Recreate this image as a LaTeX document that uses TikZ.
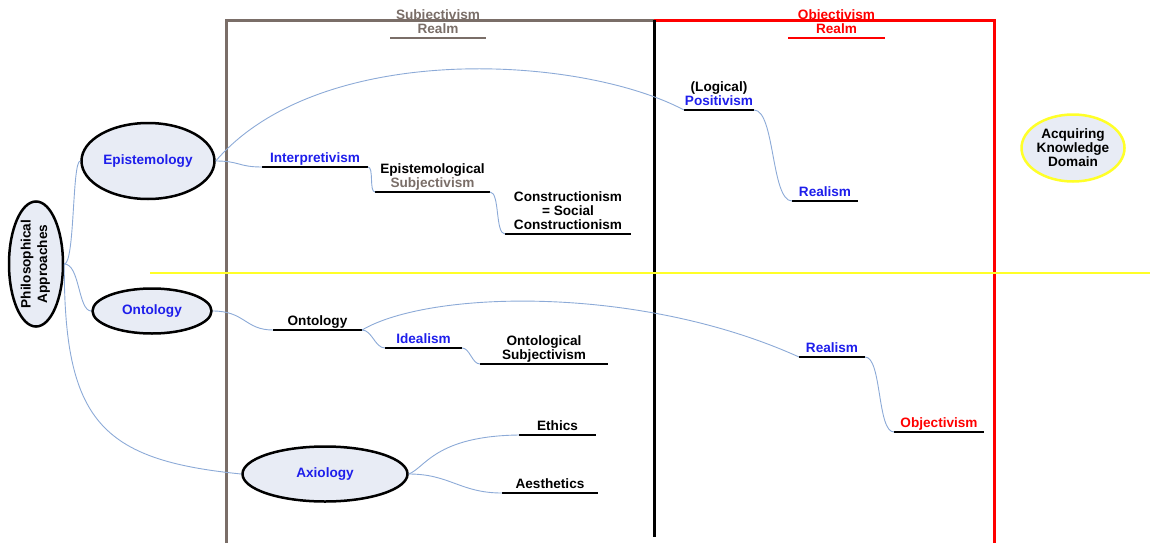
\documentclass[tikz,border=0pt]{standalone}
\usepackage{fontspec}
\setmainfont{Liberation Sans}
\usetikzlibrary{shapes.geometric}
\definecolor{realmbrown}{RGB}{122,110,104}
\definecolor{linkblue}{RGB}{140,170,215}
\definecolor{ovalfill}{RGB}{232,236,245}
\definecolor{termblue}{RGB}{30,30,235}
\definecolor{termred}{RGB}{255,0,0}
\definecolor{midline}{RGB}{255,255,40}

\tikzset{
  txt/.style={font=\fontsize{13.6}{14}\selectfont\bfseries},
  ul/.style={line width=2.5pt, black},
  conn/.style={draw=linkblue, line width=0.9pt},
  lbl/.style={txt, anchor=south, inner sep=0pt, text depth=0pt, align=center},
  oval/.style={ellipse, draw=black, line width=2.5pt, fill=ovalfill, inner sep=0pt, txt, align=center},
  frame/.style={line width=3pt}
}

% underlined mind-map topic: name, left x, right x, line y, text
\newcommand\mmtopic[5]{%
  \coordinate (#1-l) at (#2,#4);
  \coordinate (#1-r) at (#3,#4);
  \draw[ul] (#1-l) -- (#1-r);
  \node[lbl] (#1) at ({(#2+#3)/2},{#4-4.5}) {#5};
}

\begin{document}
\begin{tikzpicture}[x=1pt,y=-1pt]
\useasboundingbox (0,0) rectangle (1150,543);

% realm frames
\draw[frame, realmbrown] (226,543) -- (226,21) -- (654,21);
\draw[frame, termred] (654,21) -- (994,21) -- (994,543);
\draw[frame, black] (654,20) -- (654,537);
\draw[line width=2pt, midline] (150,273) -- (1150,273);

% realm titles
\mmtopic{subrealm}{390}{486}{38}{\textcolor{realmbrown}{Subjectivism}\\\textcolor{realmbrown}{Realm}}
\draw[ul, realmbrown] (subrealm-l) -- (subrealm-r);
\mmtopic{objrealm}{788}{885}{38}{\textcolor{termred}{Objectivism}\\\textcolor{termred}{Realm}}
\draw[ul, termred] (objrealm-l) -- (objrealm-r);

% main ovals
\node[oval, minimum width=54pt, minimum height=124pt] (phil) at (36,264)
  {\rotatebox{90}{\begin{tabular}{@{}c@{}}Philosophical\\[2.5pt]Approaches\end{tabular}}};
\node[oval, minimum width=133pt, minimum height=76pt, text=termblue] (epist) at (148,161) {Epistemology};
\node[oval, minimum width=119pt, minimum height=45pt, text=termblue] (onto) at (152,311) {Ontology};
\node[oval, minimum width=165pt, minimum height=55pt, text=termblue] (axio) at (325,474) {Axiology};
\node[oval, draw=midline, minimum width=103pt, minimum height=67pt] (domain) at (1073,148)
  {Acquiring\\Knowledge\\Domain};

% epistemology branch
\mmtopic{interp}{262}{368}{167}{\textcolor{termblue}{Interpretivism}}
\mmtopic{epsubj}{375}{490}{192}{Epistemological\\\textcolor{realmbrown}{Subjectivism}}
\mmtopic{constr}{505}{631}{234}{Constructionism\\= Social\\Constructionism}
\mmtopic{posit}{684}{754}{110}{(Logical)\\\textcolor{termblue}{Positivism}}
\mmtopic{realA}{792}{858}{201}{\textcolor{termblue}{Realism}}

% ontology branch
\mmtopic{ontlbl}{273}{362}{330}{Ontology}
\mmtopic{ideal}{385}{462}{348}{\textcolor{termblue}{Idealism}}
\mmtopic{ontsubj}{480}{608}{364}{Ontological\\Subjectivism}
\mmtopic{realB}{799}{865}{357}{\textcolor{termblue}{Realism}}
\mmtopic{objv}{894}{984}{432}{\textcolor{termred}{Objectivism}}

% axiology branch
\mmtopic{ethics}{519}{596}{435}{Ethics}
\mmtopic{aesth}{502}{598}{493}{Aesthetics}

% connectors
\draw[conn] (phil.east) .. controls (75,264) and (72,161) .. (epist.west);
\draw[conn] (phil.east) .. controls (80,264) and (78,311) .. (onto.west);
\draw[conn] (phil.east) .. controls (64,420) and (100,460) .. (axio.west);

\draw[conn] (epist.east) .. controls (240,161) and (238,167) .. (interp-l);
\draw[conn] (epist.east) .. controls (320,40) and (580,55) .. (posit-l);
\draw[conn] (interp-r) .. controls (374,167) and (369,192) .. (epsubj-l);
\draw[conn] (epsubj-r) .. controls (500,192) and (495,234) .. (constr-l);
\draw[conn] (posit-r) .. controls (775,110) and (771,201) .. (realA-l);

\draw[conn] (onto.east) .. controls (245,311) and (245,330) .. (ontlbl-l);
\draw[conn] (ontlbl-r) .. controls (430,290) and (640,285) .. (realB-l);
\draw[conn] (ontlbl-r) .. controls (372,330) and (375,348) .. (ideal-l);
\draw[conn] (ideal-r) .. controls (470,348) and (472,364) .. (ontsubj-l);
\draw[conn] (realB-r) .. controls (882,357) and (877,432) .. (objv-l);

\draw[conn] (axio.east) .. controls (425,468) and (435,436) .. (ethics-l);
\draw[conn] (axio.east) .. controls (450,474) and (460,493) .. (aesth-l);
\end{tikzpicture}
\end{document}
